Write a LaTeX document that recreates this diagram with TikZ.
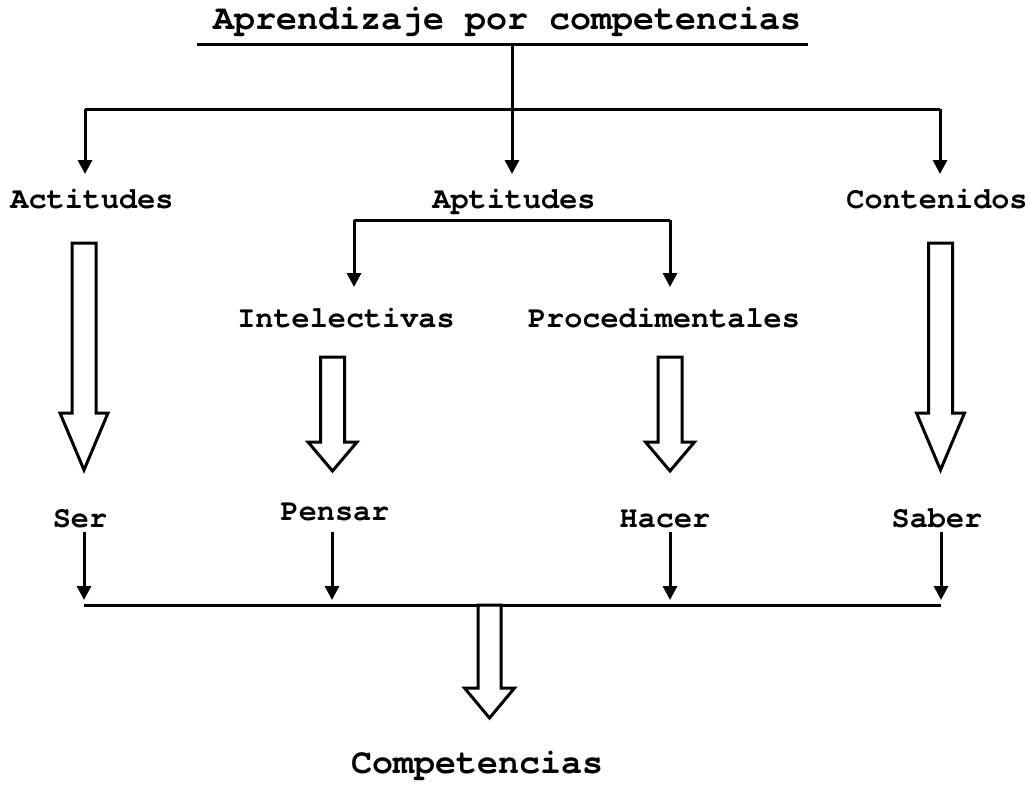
\documentclass[tikz,border=0pt]{standalone}
\usepackage{fontspec}
\setmainfont{texgyrecursor}[Extension=.otf, UprightFont=*-regular, BoldFont=*-bold]
\usetikzlibrary{arrows.meta}
\tikzset{
  lbl/.style={font=\fontsize{30.2}{34}\selectfont\bfseries, anchor=base, inner sep=0pt},
  big/.style={font=\fontsize{35}{40}\selectfont\bfseries, anchor=base, inner sep=0pt},
  conn/.style={line width=3pt, -{Triangle[width=14pt,length=14pt]}},
  bar/.style={line width=3pt},
  hollowarrow/.style={line width=3pt, line join=miter, fill=white}
}
\newcommand{\hollowarr}[6]{%
  % #1 center x, #2 top y, #3 head start y, #4 tip y, #5 half shaft, #6 half head
  \draw[hollowarrow] ({#1-#5},#2) -- ({#1+#5},#2) -- ({#1+#5},#3) -- ({#1+#6},#3)
     -- (#1,#4) -- ({#1-#6},#3) -- ({#1-#5},#3) -- cycle;}
\begin{document}
\begin{tikzpicture}[x=1pt,y=-1pt]
\useasboundingbox (0,0) rectangle (1030,784);
% texts
\node[big] (title) at (507,30) {Aprendizaje por competencias};
\node[lbl] (act) at (92,208) {Actitudes};
\node[lbl] (apt) at (514,208) {Aptitudes};
\node[lbl] (con) at (937,208) {Contenidos};
\node[lbl] (int) at (346,327) {Intelectivas};
\node[lbl] (pro) at (664,327) {Procedimentales};
\node[lbl] (ser) at (80,527) {Ser};
\node[lbl] (pen) at (335,520) {Pensar};
\node[lbl] (hac) at (665,527) {Hacer};
\node[lbl] (sab) at (937,527) {Saber};
\node[big] (comp) at (477,773) {Competencias};
% coordinates
\coordinate (ul1) at (197,45);
\coordinate (ul2) at (808,45);
\coordinate (top) at (512,45);
\coordinate (j1) at (512,109);
\coordinate (jl) at (85,109);
\coordinate (jr) at (940,109);
\coordinate (tact) at (85,174);
\coordinate (tapt) at (512,174);
\coordinate (tcon) at (940,174);
\coordinate (b2l) at (354,220);
\coordinate (b2r) at (670,220);
\coordinate (tint) at (354,287);
\coordinate (tpro) at (670,287);
\coordinate (sser) at (84,532);
\coordinate (spen) at (332,532);
\coordinate (shac) at (670,532);
\coordinate (ssab) at (941,532);
\coordinate (eser) at (84,600);
\coordinate (epen) at (332,600);
\coordinate (ehac) at (670,600);
\coordinate (esab) at (941,600);
\coordinate (bl) at (84,605);
\coordinate (br) at (941,605);
% top structure
\draw[bar] (ul1) -- (ul2);
\draw[bar] (top) -- (j1);
\draw[bar] (jl) -- (jr);
\draw[conn] (jl) -- (tact);
\draw[conn] (top) -- (tapt);
\draw[conn] (jr) -- (tcon);
% aptitudes bracket
\draw[bar] (b2l) -- (b2r);
\draw[conn] (b2l) -- (tint);
\draw[conn] (b2r) -- (tpro);
% hollow arrows
\hollowarr{84}{243}{413}{470}{12}{24}
\hollowarr{940.5}{243}{413}{470}{12}{24}
\hollowarr{332.5}{357}{442}{471}{12}{24.5}
\hollowarr{670}{357}{442}{471}{12}{24.5}
% bottom arrows
\draw[conn] (sser) -- (eser);
\draw[conn] (spen) -- (epen);
\draw[conn] (shac) -- (ehac);
\draw[conn] (ssab) -- (esab);
\draw[bar] (bl) -- (br);
\hollowarr{489.5}{605}{688}{718}{11.5}{25}
\end{tikzpicture}
\end{document}
